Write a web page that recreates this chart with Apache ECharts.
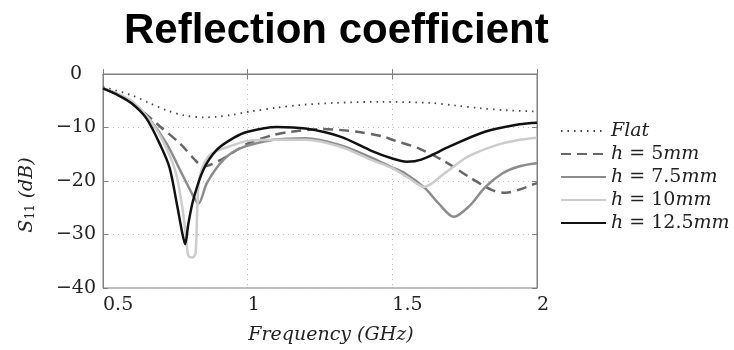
<!DOCTYPE html>
<html lang="en">
<head>
    <meta charset="UTF-8">
    <title>Reflection coefficient</title>
    <script src="https://cdn.jsdelivr.net/npm/echarts@6/dist/echarts.min.js"></script>
    <style>
        * { margin: 0; padding: 0; }
        #main { width: 734px; height: 350px; background: #fff; }
    </style>
</head>
<body>
    <div id="main"></div>
    <script>
        // frequency (GHz), S11 (dB)
        var flat = [[0.5, -2.4], [0.6, -4.0], [0.663, -5.5], [0.72, -6.8], [0.778, -7.7], [0.85, -8.1], [0.893, -8.0],
            [0.95, -7.6], [1.009, -7.0], [1.1, -6.3], [1.18, -5.8], [1.3, -5.4], [1.458, -5.2], [1.63, -5.4],
            [1.72, -5.9], [1.805, -6.4], [1.9, -6.8], [2.0, -7.0]];
        var h5 = [[0.5, -2.7], [0.55, -3.8], [0.617, -6.1], [0.697, -9.8], [0.766, -13.0], [0.824, -16.4], [0.847, -17.3],
            [0.905, -16.1], [0.963, -14.2], [1.0, -13.0], [1.088, -11.4], [1.147, -10.8], [1.262, -10.3],
            [1.378, -10.8], [1.47, -11.7], [1.5, -12.3], [1.591, -13.9], [1.683, -16.4], [1.764, -19.2],
            [1.845, -21.7], [1.891, -22.2], [1.94, -21.6], [1.983, -20.7], [2.0, -20.4]];
        var h75 = [[0.5, -2.7], [0.55, -3.7], [0.6, -5.2], [0.663, -8.6], [0.72, -13.0], [0.766, -17.9], [0.807, -22.3],
            [0.83, -24.2], [0.859, -20.4], [0.915, -16.1], [0.974, -13.9], [1.09, -12.3], [1.2, -12.0],
            [1.32, -13.3], [1.435, -15.8], [1.493, -17.3], [1.545, -18.6], [1.614, -21.4], [1.66, -24.2],
            [1.712, -26.7], [1.764, -24.8], [1.822, -21.1], [1.88, -18.6], [1.937, -17.3], [2.0, -16.7]];
        var h10 = [[0.5, -2.7], [0.55, -3.7], [0.6, -5.1], [0.65, -7.8], [0.7, -11.8], [0.749, -17.9], [0.772, -24.2],
            [0.787, -30.4], [0.795, -34.0], [0.81, -34.3], [0.82, -33.5], [0.826, -25.0], [0.835, -19.0],
            [0.87, -15.1], [0.95, -13.3], [1.0, -12.5], [1.1, -12.3], [1.2, -12.3], [1.32, -13.6], [1.43, -16.1],
            [1.5, -17.6], [1.55, -19.2], [1.61, -21.1], [1.68, -18.6], [1.76, -15.5], [1.86, -13.3],
            [1.94, -12.3], [2.0, -11.9]];
        var h125 = [[0.5, -2.7], [0.55, -3.9], [0.6, -5.5], [0.65, -8.3], [0.7, -13.5], [0.73, -17.5], [0.755, -24.2],
            [0.775, -30.0], [0.784, -31.8], [0.795, -28.0], [0.812, -23.5], [0.847, -17.9], [0.893, -14.2],
            [0.95, -12.0], [1.0, -10.8], [1.1, -9.9], [1.2, -10.2], [1.32, -11.7], [1.43, -14.4], [1.5, -15.8],
            [1.55, -16.4], [1.6, -16.0], [1.7, -13.5], [1.82, -10.8], [1.94, -9.4], [2.0, -9.1]];
        var names = ['Flat', 'h = 5mm', 'h = 7.5mm', 'h = 10mm', 'h = 12.5mm'];

        var serif = 'DejaVu Serif';
        var chart = echarts.init(document.getElementById('main'));

        function line(name, data, color, width, type) {
            return {
                name: name, type: 'line', data: data, symbol: 'none',
                smooth: 0.3,
                lineStyle: { color: color, width: width, type: type },
                itemStyle: { color: color }
            };
        }

        var frame = '#808080';
        var option = {
            backgroundColor: '#fff',
            animation: false,
            title: {
                text: 'Reflection coefficient',
                left: 119, top: 5,
                textStyle: { fontFamily: 'Liberation Sans', fontWeight: 'bold', fontSize: 42, color: '#000' }
            },
            grid: { left: 103, right: 197, top: 74, bottom: 62, show: true, borderColor: frame, borderWidth: 1 },
            legend: {
                orient: 'vertical', left: 555, top: 116,
                itemWidth: 45, itemHeight: 14, itemGap: 3,
                data: names,
                itemStyle: { opacity: 0 },
                formatter: function (name) {
                    if (name === 'Flat') return '{i|Flat}';
                    var m = name.match(/h = ([\d.]+)mm/);
                    return '{i|h} {n|= ' + m[1] + '}{i|mm}';
                },
                textStyle: {
                    fontFamily: serif, fontSize: 19, color: '#222', lineHeight: 20,
                    rich: {
                        i: { fontFamily: serif, fontStyle: 'italic', fontSize: 19, color: '#222' },
                        n: { fontFamily: serif, fontSize: 19, color: '#222' }
                    }
                }
            },
            xAxis: [{
                type: 'value', min: 0.5, max: 2, interval: 0.5,
                name: 'Frequency (GHz)', nameLocation: 'middle', nameGap: 38,
                nameTextStyle: { fontFamily: serif, fontStyle: 'italic', fontSize: 19, color: '#222', padding: [0, 0, 0, 22] },
                axisLine: { lineStyle: { color: frame } },
                axisTick: { inside: true, length: 5, lineStyle: { color: frame } },
                axisLabel: { fontFamily: serif, fontSize: 19, color: '#222', align: 'left', margin: 8 },
                splitLine: { lineStyle: { color: '#bbb', type: [1, 4] } }
            }, {
                type: 'value', min: 0.5, max: 2, interval: 0.5, position: 'top',
                axisLine: { lineStyle: { color: frame } },
                axisTick: { inside: true, length: 5, lineStyle: { color: frame } },
                axisLabel: { show: false }, splitLine: { show: false }
            }],
            yAxis: [{
                type: 'value', min: -40, max: 0, interval: 10,
                name: '{i|S}{s|11}{i| (dB)}', nameLocation: 'middle', nameGap: 66, nameRotate: 90,
                nameTextStyle: {
                    padding: [0, 28, 0, 0],
                    rich: {
                        i: { fontFamily: serif, fontStyle: 'italic', fontSize: 19, color: '#222' },
                        s: { fontFamily: serif, fontSize: 12, color: '#222', verticalAlign: 'bottom', padding: [8, 0, 0, 0] }
                    }
                },
                axisLine: { lineStyle: { color: frame } },
                axisTick: { inside: true, length: 5, lineStyle: { color: frame } },
                axisLabel: {
                    fontFamily: serif, fontSize: 19, color: '#222', align: 'center', margin: 27,
                    formatter: function (v) { return v < 0 ? '\u2212' + (-v) : String(v); }
                },
                splitLine: { lineStyle: { color: '#bbb', type: [1, 4] } }
            }, {
                type: 'value', min: -40, max: 0, interval: 10, position: 'right',
                axisLine: { lineStyle: { color: frame } },
                axisTick: { inside: true, length: 5, lineStyle: { color: frame } },
                axisLabel: { show: false }, splitLine: { show: false }
            }],
            series: [
                line(names[0], flat, '#444', 1.8, [1.5, 5]),
                line(names[1], h5, '#666', 2.5, [10, 6]),
                line(names[2], h75, '#8c8c8c', 2.5, 'solid'),
                line(names[3], h10, '#cccccc', 2.5, 'solid'),
                line(names[4], h125, '#111', 2.5, 'solid')
            ]
        };
        chart.setOption(option);
    </script>
</body>
</html>
